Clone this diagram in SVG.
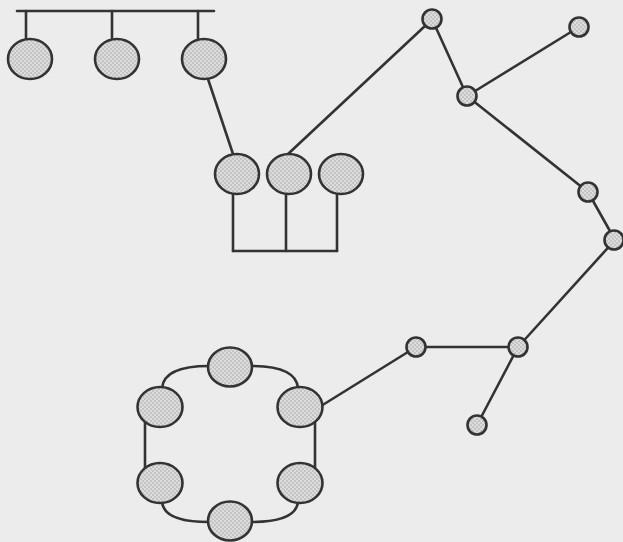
<svg xmlns="http://www.w3.org/2000/svg" width="623" height="542" viewBox="0 0 623 542">
  <defs>
    <pattern id="dots" width="4" height="4" patternUnits="userSpaceOnUse">
      <rect width="4" height="4" fill="#c4c4c4"/>
      <rect width="2" height="2" fill="#dcdcdc"/>
      <rect x="2" y="2" width="2" height="2" fill="#dcdcdc"/>
    </pattern>
  </defs>
  <style>
    .bg { fill: #ececec; }
    .ln { fill: none; stroke: #333; stroke-width: 2.6; stroke-linecap: round; }
    .big { fill: url(#dots); stroke: #333; stroke-width: 2.6; }
    .sm { fill: url(#dots); stroke: #333; stroke-width: 2.6; }
  </style>
  <rect class="bg" x="0" y="0" width="623" height="542"/>

  <g id="connectors">
    <!-- bus -->
    <line class="ln" x1="17" y1="11" x2="214" y2="11"/>
    <line class="ln" x1="26" y1="11" x2="26" y2="39"/>
    <line class="ln" x1="112" y1="11" x2="112" y2="39"/>
    <line class="ln" x1="198" y1="11" x2="198" y2="39"/>
    <!-- bus to star -->
    <line class="ln" x1="208" y1="79" x2="233" y2="154"/>
    <!-- star node to tree -->
    <line class="ln" x1="288" y1="154" x2="425" y2="26"/>
    <!-- star bottom -->
    <line class="ln" x1="233" y1="194" x2="233" y2="251"/>
    <line class="ln" x1="286" y1="194" x2="286" y2="251"/>
    <line class="ln" x1="337" y1="194" x2="337" y2="251"/>
    <line class="ln" x1="233" y1="251" x2="337" y2="251"/>
    <!-- tree -->
    <line class="ln" x1="432" y1="19" x2="467" y2="96"/>
    <line class="ln" x1="467" y1="96" x2="579" y2="27"/>
    <line class="ln" x1="467" y1="96" x2="588" y2="192"/>
    <line class="ln" x1="588" y1="192" x2="615" y2="240"/>
    <line class="ln" x1="615" y1="240" x2="518" y2="347"/>
    <line class="ln" x1="518" y1="347" x2="416" y2="347"/>
    <line class="ln" x1="518" y1="347" x2="477" y2="425"/>
    <line class="ln" x1="416" y1="347" x2="321" y2="406"/>
    <!-- ring -->
    <path class="ln" d="M162,388 Q164,366 209,366"/>
    <path class="ln" d="M251,366 Q296,366 298,388"/>
    <line class="ln" x1="145" y1="420" x2="145" y2="470"/>
    <line class="ln" x1="315" y1="420" x2="315" y2="470"/>
    <path class="ln" d="M162,502 Q164,522 209,522"/>
    <path class="ln" d="M251,522 Q296,522 298,502"/>
  </g>

  <g id="bus1"><ellipse class="big" cx="30" cy="59" rx="22" ry="20"/></g>
  <g id="bus2"><ellipse class="big" cx="117" cy="59" rx="22" ry="20"/></g>
  <g id="bus3"><ellipse class="big" cx="204" cy="59" rx="22" ry="20"/></g>

  <g id="star1"><ellipse class="big" cx="237" cy="174" rx="22" ry="20"/></g>
  <g id="star2"><ellipse class="big" cx="289" cy="174" rx="22" ry="20"/></g>
  <g id="star3"><ellipse class="big" cx="341" cy="174" rx="22" ry="20"/></g>

  <g id="tree1"><circle class="sm" cx="432" cy="19" r="9.5"/></g>
  <g id="tree2"><circle class="sm" cx="579" cy="27" r="9.5"/></g>
  <g id="tree3"><circle class="sm" cx="467" cy="96" r="9.5"/></g>
  <g id="tree4"><circle class="sm" cx="588" cy="192" r="9.5"/></g>
  <g id="tree5"><circle class="sm" cx="614" cy="240" r="9.5"/></g>
  <g id="tree6"><circle class="sm" cx="518" cy="347" r="9.5"/></g>
  <g id="tree7"><circle class="sm" cx="416" cy="347" r="9.5"/></g>
  <g id="tree8"><circle class="sm" cx="477" cy="425" r="9.5"/></g>

  <g id="ring1"><ellipse class="big" cx="230" cy="367" rx="22" ry="19.5"/></g>
  <g id="ring2"><ellipse class="big" cx="160" cy="407" rx="22.5" ry="20"/></g>
  <g id="ring3"><ellipse class="big" cx="300" cy="407" rx="22.5" ry="20"/></g>
  <g id="ring4"><ellipse class="big" cx="160" cy="483" rx="22.5" ry="20"/></g>
  <g id="ring5"><ellipse class="big" cx="300" cy="483" rx="22.5" ry="20"/></g>
  <g id="ring6"><ellipse class="big" cx="230" cy="521" rx="22" ry="19.5"/></g>
</svg>
